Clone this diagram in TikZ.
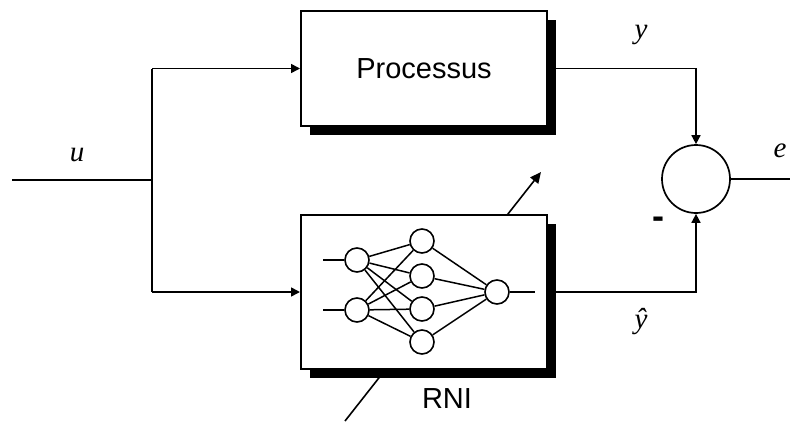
\documentclass[tikz,border=0pt]{standalone}
\usepackage{fontspec}
\setmainfont{Liberation Serif}
\setsansfont{Liberation Sans}
\usetikzlibrary{arrows.meta,shadows}
\tikzset{
  wire/.style={line width=1.6pt},
  arr/.style={wire,-{Triangle[length=9pt,width=9pt]}},
  block/.style={draw,line width=2pt,fill=white,minimum width=246pt,
    drop shadow={shadow xshift=9pt,shadow yshift=-9pt,opacity=1,fill=black}},
  neuron/.style={circle,draw,line width=1.6pt,fill=white,minimum size=24pt,inner sep=0pt},
  syn/.style={line width=1.5pt},
  sumnode/.style={circle,draw,line width=1.7pt,minimum size=68pt,inner sep=0pt},
  sig/.style={font=\fontsize{29}{33}\selectfont\itshape},
  caption/.style={font=\sffamily\fontsize{29}{34}\selectfont}
}
\begin{document}
\begin{tikzpicture}[x=1pt,y=-1pt]
\useasboundingbox (0,0) rectangle (790,421);

% adaptation arrow crossing the network block
\coordinate (adaptA) at (345,421);
\coordinate (adaptB) at (541,172);
\draw[wire,-{Triangle[length=11pt,width=10pt]}] (adaptA) -- (adaptB);

% blocks
\node[block,minimum height=115pt,caption] (proc) at (424,68.5) {Processus};
\node[block,minimum height=154pt] (rni) at (424,292) {};
\node[caption] (rnilabel) at (447,399) {RNI};

% neural network inside the block
\node[neuron] (i1) at (357,260) {};
\node[neuron] (i2) at (357,310) {};
\node[neuron] (h1) at (422,241) {};
\node[neuron] (h2) at (422,276) {};
\node[neuron] (h3) at (422,309) {};
\node[neuron] (h4) at (422,342) {};
\node[neuron] (o)  at (497,292) {};
\foreach \a in {i1,i2}
  \foreach \b in {h1,h2,h3,h4}
    \draw[syn] (\a) -- (\b);
\foreach \b in {h1,h2,h3,h4}
  \draw[syn] (\b) -- (o);
\coordinate (in1) at (323,260);
\coordinate (in2) at (323,310);
\coordinate (out) at (535,292);
\draw[syn] (in1) -- (i1);
\draw[syn] (in2) -- (i2);
\draw[syn] (o) -- (out);

% comparator
\node[sumnode] (sum) at (696,179) {};

% input u and its branches
\coordinate (uin) at (12,180);
\coordinate (split) at (152,180);
\coordinate (splitT) at (152,68.5);
\coordinate (splitB) at (152,292);
\draw[wire] (uin) -- (split);
\draw[wire] (splitT) -- (splitB);
\draw[arr] (splitT) -- (proc.west);
\draw[arr] (splitB) -- (rni.west);

% outputs to the comparator
\draw[arr] (proc.east) -| (sum.north);
\draw[arr] (rni.east) -| (sum.south);
\coordinate (eout) at (790,179);
\draw[wire] (sum.east) -- (eout);

% labels
\node[sig] (ulab) at (77,155) {u};
\node[sig] (ylab) at (641,35) {y};
\node[sig] (yhlab) at (641,322) {ŷ};
\node[sig,inner sep=0pt] (elab) at (780,151) {e};
\node[font=\sffamily\bfseries\fontsize{36}{40}\selectfont] (minus) at (658,223) {-};
\end{tikzpicture}
\end{document}
